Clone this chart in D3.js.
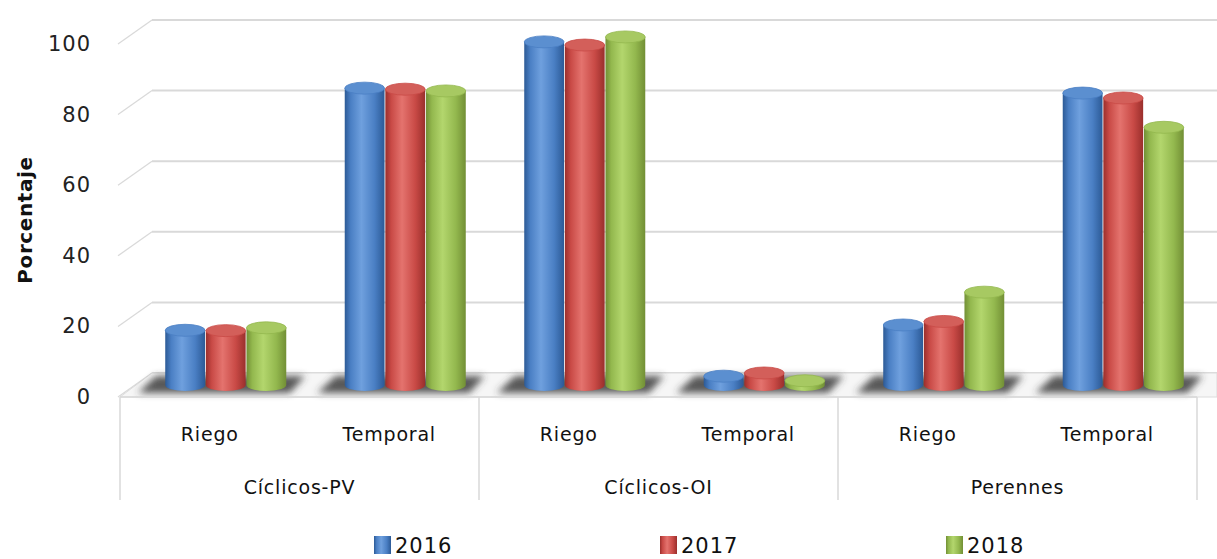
<!DOCTYPE html>
<html>
<head>
<meta charset="utf-8">
<script src="https://cdn.jsdelivr.net/npm/d3@7"></script>
<style>
  body { margin: 0; background: #fff; }
  svg { display: block; font-family: "DejaVu Sans", sans-serif; }
</style>
</head>
<body>
<div id="chart"></div>
<script>
// data
const groups = ["Cíclicos-PV", "Cíclicos-OI", "Perennes"];
const subs = ["Riego", "Temporal"];
const years = ["2016", "2017", "2018"];
const v2016 = [15.5, 84.1, 97.2, 2.5, 17.0, 82.7];
const v2017 = [15.4, 83.8, 96.3, 3.4, 18.0, 81.3];
const v2018 = [16.2, 83.3, 98.6, 1.2, 26.3, 73.0];
const yTicks = [0, 20, 40, 60, 80, 100];

const width = 1217;
const height = 559;
const left = 120, right = 1197;
const depthX = 32, depthY = 24;
const floorY = 397;

const series = [v2016, v2017, v2018];
const colors = {
    "2016": { dark: "#2c5a96", mid: "#4a7fc4", light: "#6fa0de", top: "#5b8fd0" },
    "2017": { dark: "#9a2f2c", mid: "#c94a46", light: "#e4736e", top: "#d35f5a" },
    "2018": { dark: "#728f35", mid: "#93b84e", light: "#b3d66d", top: "#a7c962" }
};

const svg = d3.select("#chart").append("svg")
    .attr("width", width)
    .attr("height", height);

const defs = svg.append("defs");
years.forEach((yr) => {
    const c = colors[yr];
    const g = defs.append("linearGradient").attr("id", "cyl" + yr)
        .attr("x1", "0%").attr("x2", "100%").attr("y1", "0%").attr("y2", "0%");
    [[0, c.dark], [0.15, c.mid], [0.42, c.light], [0.75, c.mid], [1, c.dark]].forEach(([o, col]) => {
        g.append("stop").attr("offset", o).attr("stop-color", col);
    });
});
defs.append("filter").attr("id", "blur")
    .attr("x", "-20%").attr("y", "-50%").attr("width", "140%").attr("height", "200%")
    .append("feGaussianBlur").attr("stdDeviation", 3.5);

// scales
const flat = [];
groups.forEach((g) => subs.forEach((s) => flat.push(g + "|" + s)));
const xGroup = d3.scaleBand().domain(groups).range([left, right]);
const xFlat = d3.scaleBand().domain(flat).range([left, right]);
const xYear = d3.scaleBand().domain(years).range([0, xFlat.bandwidth()])
    .paddingInner(0.02).paddingOuter(0.72);

const yFront = d3.scaleLinear().domain([0, 100]).range([floorY, floorY - 353]);
const yMid = (v) => yFront(v) - depthY / 2;

// back wall gridlines + side wall diagonals
const grid = svg.append("g");
yTicks.forEach((t) => {
    grid.append("line")
        .attr("x1", left + depthX).attr("x2", width)
        .attr("y1", yFront(t) - depthY).attr("y2", yFront(t) - depthY)
        .attr("stroke", "#d9d9d9").attr("stroke-width", 2);
    grid.append("line")
        .attr("x1", left - 2).attr("x2", left + depthX)
        .attr("y1", yFront(t)).attr("y2", yFront(t) - depthY)
        .attr("stroke", "#d9d9d9").attr("stroke-width", 1.2);
});

// floor
svg.append("path")
    .attr("d", `M${left},${floorY} L${left + depthX},${floorY - depthY} L${width},${floorY - depthY} L${width},${floorY} Z`)
    .attr("fill", "#f6f6f6").attr("stroke", "#dcdcdc").attr("stroke-width", 1);

// shadows of the bar groups on the floor
const shadows = svg.append("g").attr("filter", "url(#blur)");
flat.forEach((k) => {
    const x0 = xFlat(k);
    shadows.append("path")
        .attr("d", `M${x0 + 18},${floorY - 4} L${x0 + 36},${floorY - depthY + 3} L${x0 + 185},${floorY - depthY + 3} L${x0 + 170},${floorY - 4} Z`)
        .attr("fill", "#3c3c3c").attr("opacity", 0.85);
});

// cylinders
const bars = svg.append("g");
flat.forEach((k, i) => {
    years.forEach((yr, j) => {
        const v = series[j][i];
        const bw = xYear.bandwidth();
        const x = xFlat(k) + xYear(yr) + depthX / 2;
        const cx = x + bw / 2;
        const y0 = yMid(0), y1 = yMid(v);
        const ry = 6;
        const g = bars.append("g");
        g.append("path")
            .attr("d", `M${x},${y1} L${x},${y0} A${bw / 2},${ry} 0 0 0 ${x + bw},${y0} L${x + bw},${y1} Z`)
            .attr("fill", `url(#cyl${yr})`);
        g.append("ellipse")
            .attr("cx", cx).attr("cy", y1)
            .attr("rx", bw / 2).attr("ry", ry)
            .attr("fill", colors[yr].top)
            .attr("stroke", colors[yr].mid).attr("stroke-width", 0.8);
    });
});

// y tick labels
svg.append("g").selectAll("text").data(yTicks).join("text")
    .attr("x", 91).attr("y", (d) => yFront(d) + 7)
    .attr("text-anchor", "end")
    .attr("font-size", 21).attr("letter-spacing", 1)
    .attr("fill", "#222")
    .text((d) => d);

svg.append("text")
    .attr("transform", "translate(32,220) rotate(-90)")
    .attr("text-anchor", "middle")
    .attr("font-size", 20).attr("font-weight", "bold").attr("letter-spacing", 0.6)
    .attr("fill", "#111")
    .text("Porcentaje");

// category axis (two levels)
const axis = svg.append("g");
axis.append("line")
    .attr("x1", left).attr("x2", right)
    .attr("y1", floorY).attr("y2", floorY)
    .attr("stroke", "#d9d9d9").attr("stroke-width", 1.5);
[left, ...groups.map((g) => xGroup(g) + xGroup.bandwidth())].forEach((x) => {
    axis.append("line")
        .attr("x1", x).attr("x2", x)
        .attr("y1", floorY).attr("y2", 500)
        .attr("stroke", "#d9d9d9").attr("stroke-width", 1.5);
});
axis.selectAll("text.sub").data(flat).join("text")
    .attr("class", "sub")
    .attr("x", (d) => xFlat(d) + xFlat.bandwidth() / 2)
    .attr("y", 441)
    .attr("text-anchor", "middle")
    .attr("font-size", 19).attr("letter-spacing", 0.8)
    .attr("fill", "#111")
    .text((d) => d.split("|")[1]);
axis.selectAll("text.grp").data(groups).join("text")
    .attr("class", "grp")
    .attr("x", (d) => xGroup(d) + xGroup.bandwidth() / 2)
    .attr("y", 494)
    .attr("text-anchor", "middle")
    .attr("font-size", 19).attr("letter-spacing", 0.8)
    .attr("fill", "#111")
    .text((d) => d);

// legend
const legendX = d3.scalePoint().domain(years).range([374, 946]);
const legend = svg.append("g");
years.forEach((yr) => {
    const x = legendX(yr);
    legend.append("rect")
        .attr("x", x).attr("y", 536)
        .attr("width", 17).attr("height", 18)
        .attr("fill", `url(#cyl${yr})`);
    legend.append("text")
        .attr("x", x + 21).attr("y", 553)
        .attr("font-size", 21).attr("letter-spacing", 1)
        .attr("fill", "#111")
        .text(yr);
});
</script>
</body>
</html>
